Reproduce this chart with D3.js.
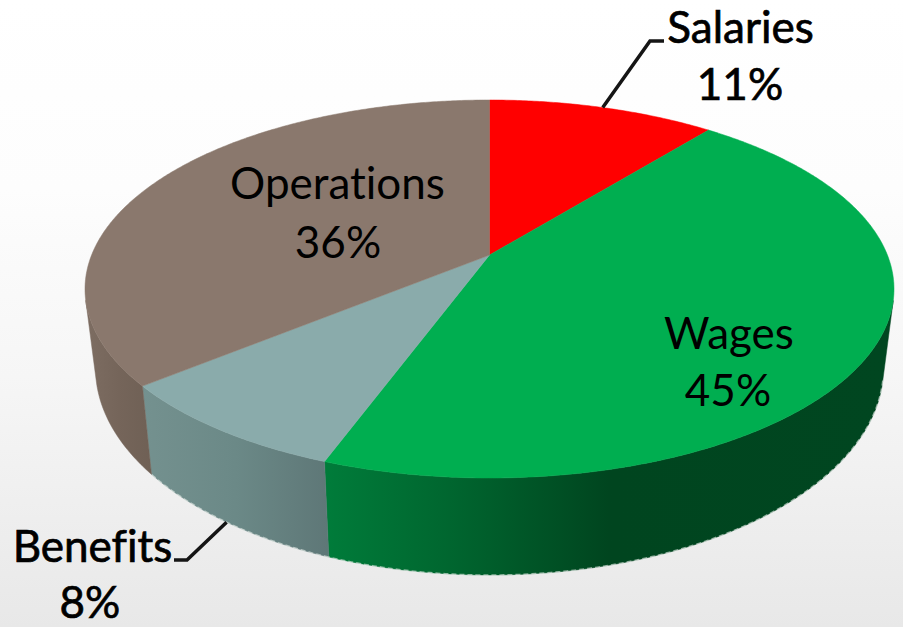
<!DOCTYPE html>
<html>
<head>
<meta charset="utf-8">
<script src="https://cdn.jsdelivr.net/npm/d3@7"></script>
<style>
  html, body { margin: 0; padding: 0; background: #fff; overflow: hidden; }
  svg { display: block; }
</style>
</head>
<body>
<div id="chart"></div>
<script>
// slices, clockwise from twelve o'clock
const categories = ['Salaries', 'Wages', 'Benefits', 'Operations'];
const percents = [10.8, 44.8, 8.45, 35.95];

const topColors = ['#ff0000', '#00ae50', '#8aabab', '#8a786d'];
const wallStops = [
  [[0, '#c00000'], [1, '#c00000']],
  [[0, '#007c3a'], [0.22, '#00662f'], [0.5, '#00451f'], [1, '#004620']],
  [[0, '#74918f'], [0.5, '#6b8987'], [1, '#5e7777']],
  [[0, '#7d6d62'], [0.5, '#75655a'], [1, '#6f6055']]
];

const width = 903;
const height = 627;

// top face: a tilted disc seen in perspective, so its centre sits above the ellipse centre
const cx = 489.5;
const face = { cy: 289, rx: 404.5, ry: 189, hub: 255 };
const base = { cy: 368, rx: 394, ry: 207 };
const k = (2 * face.hub - 2 * face.cy) / (2 * face.ry);
const a = (face.cy + face.ry) * (1 + k) - face.hub;
const c = face.rx * Math.sqrt(1 - k * k);

function project(angle) {
  const u = Math.sin(angle);
  const v = -Math.cos(angle);
  const w = 1 + k * v;
  return [cx + c * u / w, (face.hub + a * v) / w];
}

function drop(p) {
  return [
    cx + (p[0] - cx) * base.rx / face.rx,
    base.cy + (p[1] - face.cy) * base.ry / face.ry
  ];
}

function rim(d) {
  const n = Math.ceil((d.endAngle - d.startAngle) * 120);
  return d3.range(n + 1).map(i => project(d.startAngle + (d.endAngle - d.startAngle) * i / n));
}

// only the front of the rim casts a wall, the back would fold over itself
const frontRim = d => rim(d).filter(p => p[1] >= face.cy + 11);

const pie = d3.pie().sort(null).value(d => d);
const slices = pie(percents);
const line = d3.line();

const svg = d3.select('#chart').append('svg')
  .attr('width', width)
  .attr('height', height);

const defs = svg.append('defs');

const bg = defs.append('linearGradient')
  .attr('id', 'bg')
  .attr('x1', 0).attr('y1', 0).attr('x2', 0).attr('y2', 1);
[[0, '#ffffff'], [0.3, '#fdfdfd'], [0.6, '#f6f6f6'], [1, '#e8e8e8']].forEach(s => {
  bg.append('stop').attr('offset', s[0]).attr('stop-color', s[1]);
});

svg.append('rect')
  .attr('width', width)
  .attr('height', height)
  .attr('fill', 'url(#bg)');

// wall gradients run left to right across each slice's own extent
const walls = slices.map((d, i) => ({ i, r: frontRim(d) })).filter(w => w.r.length > 1);

walls.forEach(w => {
  const xs = d3.extent(w.r.concat(w.r.map(drop)), p => p[0]);
  const g = defs.append('linearGradient')
    .attr('id', `wall${w.i}`)
    .attr('gradientUnits', 'userSpaceOnUse')
    .attr('x1', xs[0]).attr('y1', 0).attr('x2', xs[1]).attr('y2', 0);
  wallStops[w.i].forEach(s => {
    g.append('stop').attr('offset', s[0]).attr('stop-color', s[1]);
  });
});

svg.append('g')
  .selectAll('path')
  .data(walls)
  .join('path')
    .attr('d', w => line(w.r.concat(w.r.map(drop).reverse())) + 'Z')
    .attr('fill', w => `url(#wall${w.i})`)
    .attr('stroke', w => `url(#wall${w.i})`)
    .attr('stroke-width', 0.5);

// thin pale edge along the bottom of the wall
svg.append('g')
  .attr('fill', 'none')
  .attr('stroke', '#dfe8e2')
  .attr('stroke-opacity', 0.6)
  .attr('stroke-width', 1.5)
  .attr('stroke-dasharray', '5 3')
  .selectAll('path')
  .data(walls.filter(w => w.i === 1 || w.i === 2))
  .join('path')
    .attr('d', w => line(w.r.map(drop)));

svg.append('g')
  .selectAll('path')
  .data(slices)
  .join('path')
    .attr('d', d => line([[cx, face.hub]].concat(rim(d))) + 'Z')
    .attr('fill', (d, i) => topColors[i])
    .attr('stroke', (d, i) => topColors[i])
    .attr('stroke-width', 0.5);

// leader lines start on the middle of their slice
const mid = d => (d.startAngle + d.endAngle) / 2;
const leaders = [
  { from: project(mid(slices[0])), knee: [650, 41], end: [664, 41] },
  { from: drop(project(mid(slices[2]))), knee: [187, 560], end: [174, 560] }
];

svg.append('g')
  .attr('fill', 'none')
  .attr('stroke', '#151515')
  .attr('stroke-width', 3.5)
  .selectAll('path')
  .data(leaders)
  .join('path')
    .attr('d', d => line([d.from, d.knee, d.end]));

const labelPos = [
  { x: 740.5, y: 43, y2: 100, x2: 740, outer: true },
  { x: 729, y: 349, y2: 406, x2: 728 },
  { x: 92.5, y: 562, y2: 618, x2: 90, outer: true },
  { x: 337.5, y: 199, y2: 258, x2: 338 }
];

const labels = svg.append('g')
  .attr('font-family', 'Lato, sans-serif')
  .attr('font-size', 44)
  .attr('fill', '#000')
  .attr('text-anchor', 'middle')
  .style('font-variant-ligatures', 'none')
  .selectAll('g')
  .data(slices)
  .join('g')
    .attr('stroke', (d, i) => labelPos[i].outer ? '#000' : 'none')
    .attr('stroke-width', 0.7);

labels.append('text')
  .attr('x', (d, i) => labelPos[i].x)
  .attr('y', (d, i) => labelPos[i].y)
  .text((d, i) => categories[i]);

labels.append('text')
  .attr('x', (d, i) => labelPos[i].x2)
  .attr('y', (d, i) => labelPos[i].y2)
  .text(d => `${Math.round(d.value)}%`);
</script>
</body>
</html>
